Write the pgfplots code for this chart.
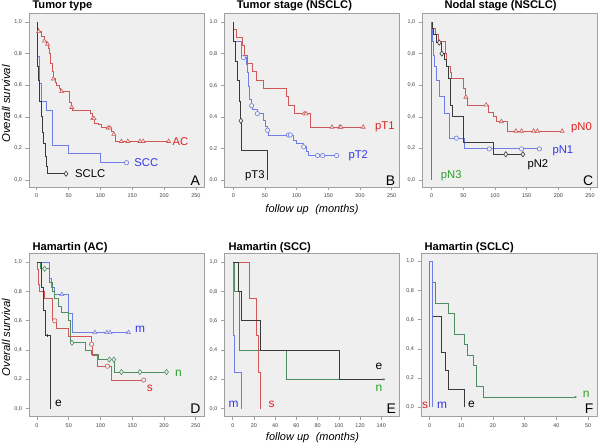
\documentclass[border=0pt]{standalone}
\usepackage{pgfplots}
\pgfplotsset{compat=1.18}
\usepackage{fontspec}
\setmainfont{Liberation Sans}
\definecolor{bgc}{HTML}{EFEFEF}
\definecolor{framec}{HTML}{A0A0A0}
\definecolor{lred}{HTML}{D05858}
\definecolor{lblue}{HTML}{6E7EE6}
\definecolor{lgreen}{HTML}{4E8E60}
\definecolor{lblack}{HTML}{3A3A3A}
\definecolor{tred}{HTML}{E02020}
\definecolor{tblue}{HTML}{3535F0}
\definecolor{tgreen}{HTML}{28A028}
\definecolor{tickc}{HTML}{404040}
\newcommand\lf{\fontsize{11.3}{13}\selectfont}
\newcommand\lfb{\fontsize{12}{14}\selectfont}
\newcommand\ttl{\bfseries\fontsize{11.2}{13}\selectfont}
\newcommand\plet{\fontsize{14}{16}\selectfont}
\pgfplotsset{
  km/.style={scale only axis, clip=false,
    axis background/.style={fill=bgc},
    axis line style={draw=framec, line width=0.9bp},
    tick pos=left, tick align=outside, major tick length=3.5bp,
    tick style={draw=framec, line width=0.6bp},
    ytick={0,0.2,0.4,0.6,0.8,1},
    tick label style={font=\fontsize{5.5}{6}\selectfont, text=tickc},
    /pgf/number format/assume math mode=true,
    yticklabel style={/pgf/number format/.cd, fixed, fixed zerofill, precision=1, use comma},
    xticklabel style={/pgf/number format/.cd, fixed, precision=0},
  },
  kml/.style={const plot, line width=0.9bp, mark=none},
  cens/.style={only marks, mark options={solid, fill=bgc, line width=0.6bp}},
}
\begin{document}
\begin{tikzpicture}
\useasboundingbox (0bp,0bp) rectangle (600bp,445bp);
% titles and labels
\node[anchor=base west, inner sep=0, font=\ttl] at (32.3bp,436bp) {Tumor type};
\node[anchor=base west, inner sep=0, font=\ttl] at (236.7bp,436bp) {Tumor stage (NSCLC)};
\node[anchor=base west, inner sep=0, font=\ttl] at (444.3bp,436bp) {Nodal stage (NSCLC)};
\node[anchor=base west, inner sep=0, font=\ttl] at (32.3bp,194.3bp) {Hamartin (AC)};
\node[anchor=base west, inner sep=0, font=\ttl] at (228.3bp,194.3bp) {Hamartin (SCC)};
\node[anchor=base west, inner sep=0, font=\ttl] at (424.3bp,194.3bp) {Hamartin (SCLC)};
\node[rotate=90, inner sep=0, font=\itshape\fontsize{11.4}{13}\selectfont] at (6bp,341bp) {Overall survival};
\node[rotate=90, inner sep=0, font=\itshape\fontsize{11.4}{13}\selectfont] at (6bp,107.5bp) {Overall survival};
\node[inner sep=0, font=\itshape\fontsize{11}{13}\selectfont] at (312bp,235bp) {follow up\hspace{0.6em}(months)};
\node[inner sep=0, font=\itshape\fontsize{11}{13}\selectfont] at (312.5bp,7bp) {follow up\hspace{0.6em}(months)};

% ---------- A ----------
\begin{axis}[km, at={(29bp,258bp)}, anchor=south west, width=175bp, height=174bp,
  xmin=-12.1, xmax=262.6, ymin=-0.044, ymax=1.057, xtick={0,50,100,150,200,250}]
\addplot[kml, lred] coordinates {(0,1)(1,0.96)(3,0.94)(8,0.91)(12,0.88)(16,0.86)(18,0.83)(20,0.80)(22,0.74)(24,0.69)(26,0.64)(29,0.62)(31,0.60)(35,0.58)(38,0.56)(51,0.49)(54,0.46)(56,0.44)(84,0.42)(88,0.39)(91,0.36)(97,0.35)(101,0.33)(117,0.31)(120,0.29)(123,0.245)(207,0.245)};
\addplot[cens, mark=triangle*, mark size=2.3bp, lred] coordinates {(3,0.94)(12,0.88)(17,0.86)(26,0.64)(39,0.56)(55,0.46)(88,0.39)(90,0.39)(112,0.33)(115,0.33)(121,0.29)(133,0.245)(143,0.245)(162,0.245)(167,0.245)(207,0.245)};
\addplot[kml, lblue] coordinates {(0,1)(0.5,0.89)(1.5,0.78)(5,0.61)(8,0.50)(15,0.44)(24,0.22)(50,0.17)(100,0.11)(141,0.11)};
\addplot[cens, mark=*, mark size=2.2bp, lblue] coordinates {(141,0.11)};
\addplot[kml, lblack] coordinates {(0,1)(0.5,0.85)(1,0.72)(2,0.63)(4,0.57)(5,0.50)(7,0.40)(9,0.30)(11,0.23)(13,0.15)(15,0.085)(17,0.04)(46,0.04)};
\addplot[cens, mark=diamond*, mark size=2.6bp, lblack] coordinates {(46,0.04)};
\node[anchor=west, inner sep=0, font=\lf, text=tred] at (axis cs:213,0.245) {AC};
\node[anchor=west, inner sep=0, font=\lf, text=tblue] at (axis cs:153,0.11) {SCC};
\node[anchor=west, inner sep=0, font=\lf, text=black] at (axis cs:60,0.04) {SCLC};
\node[anchor=base east, inner sep=0, font=\plet] at ([xshift=-4bp,yshift=1.5bp]rel axis cs:1,0) {A};
\end{axis}

% ---------- B ----------
\begin{axis}[km, at={(224.3bp,258bp)}, anchor=south west, width=175bp, height=174bp,
  xmin=-14.2, xmax=262, ymin=-0.044, ymax=1.057, xtick={0,50,100,150,200,250},
  yticklabel style={/pgf/number format/.cd, use period}]
\addplot[kml, lred] coordinates {(0,1)(1,0.95)(5,0.90)(15,0.85)(18,0.79)(22,0.74)(30,0.69)(37,0.63)(48,0.58)(84,0.53)(87,0.475)(96,0.42)(121,0.335)(205,0.335)};
\addplot[cens, mark=triangle*, mark size=2.3bp, lred] coordinates {(112,0.42)(115,0.42)(156,0.335)(168,0.335)(170,0.335)(205,0.335)};
\addplot[kml, lblue] coordinates {(0,1)(1,0.88)(13,0.775)(20,0.73)(22,0.68)(24,0.59)(26,0.51)(28,0.47)(31,0.445)(38,0.42)(47,0.38)(50,0.34)(54,0.315)(56,0.285)(95,0.25)(100,0.23)(111,0.21)(116,0.18)(118,0.155)(163,0.155)};
\addplot[cens, mark=*, mark size=2.2bp, lblue] coordinates {(16,0.775)(29,0.47)(38,0.42)(54,0.315)(87,0.285)(90,0.285)(111,0.21)(133,0.155)(141,0.155)(163,0.155)};
\addplot[kml, lblack] coordinates {(0,1)(1,0.88)(4,0.75)(6,0.63)(9,0.5)(11,0.375)(13,0.19)(54,0)};
\addplot[cens, mark=diamond*, mark size=2.6bp, lblack] coordinates {(12,0.375)};
\node[anchor=west, inner sep=0, font=\lf, text=tred] at (axis cs:223.7,0.335) {pT1};
\node[anchor=west, inner sep=0, font=\lf, text=tblue] at (axis cs:181.6,0.155) {pT2};
\node[anchor=west, inner sep=0, font=\lf, text=black] at (axis cs:18.4,0.025) {pT3};
\node[anchor=base east, inner sep=0, font=\plet] at ([xshift=-4bp,yshift=1.5bp]rel axis cs:1,0) {B};
\end{axis}

% ---------- C ----------
\begin{axis}[km, at={(422.3bp,258bp)}, anchor=south west, width=175bp, height=174bp,
  xmin=-14.8, xmax=261.5, ymin=-0.044, ymax=1.057, xtick={0,50,100,150,200,250}]
\addplot[kml, lred] coordinates {(0,1)(2,0.96)(6,0.92)(10,0.88)(21,0.80)(24,0.72)(29,0.68)(32,0.64)(50,0.58)(53,0.525)(57,0.475)(89,0.43)(97,0.40)(102,0.37)(119,0.31)(206,0.31)};
\addplot[cens, mark=triangle*, mark size=2.3bp, lred] coordinates {(54,0.525)(86,0.475)(110,0.37)(133,0.31)(142,0.31)(161,0.31)(167,0.31)(206,0.31)};
\addplot[kml, lblue] coordinates {(0,1)(0.5,0.88)(2.6,0.79)(5,0.72)(8,0.63)(12,0.53)(19.4,0.42)(27.3,0.265)(51,0.197)(170,0.197)};
\addplot[cens, mark=*, mark size=2.2bp, lblue] coordinates {(39,0.265)(91,0.197)(142,0.197)(170,0.197)};
\addplot[kml, lblack] coordinates {(0,1)(1,0.96)(3,0.92)(8,0.87)(15,0.80)(20,0.76)(23,0.72)(26,0.64)(29,0.61)(30,0.475)(33,0.40)(50,0.237)(97,0.163)(144,0.163)};
\addplot[cens, mark=diamond*, mark size=2.6bp, lblack] coordinates {(12,0.87)(16,0.80)(117,0.163)(144,0.163)};
\addplot[kml, lgreen] coordinates {(0,1)(0,0)};
\node[anchor=west, inner sep=0, font=\lf, text=tred] at (axis cs:220,0.33) {pN0};
\node[anchor=west, inner sep=0, font=\lf, text=tblue] at (axis cs:190.5,0.186) {pN1};
\node[anchor=west, inner sep=0, font=\lf, text=black] at (axis cs:151,0.095) {pN2};
\node[anchor=west, inner sep=0, font=\lf, text=tgreen] at (axis cs:14.2,0.025) {pN3};
\node[anchor=base east, inner sep=0, font=\plet] at ([xshift=-4bp,yshift=1.5bp]rel axis cs:1,0) {C};
\end{axis}

% ---------- D ----------
\begin{axis}[km, at={(29bp,28.3bp)}, anchor=south west, width=175bp, height=163.4bp,
  xmin=-12.6, xmax=263, ymin=-0.055, ymax=1.061, xtick={0,50,100,150,200,250}]
\addplot[kml, lblue] coordinates {(0,1)(19,0.89)(23,0.83)(27,0.78)(50,0.65)(56,0.52)(144,0.52)};
\addplot[cens, mark=triangle*, mark size=2.3bp, lblue] coordinates {(39,0.78)(91,0.52)(110,0.52)(115,0.52)(144,0.52)};
\addplot[kml, lgreen] coordinates {(0,1)(6,0.955)(20,0.86)(25,0.80)(28,0.75)(33,0.70)(39,0.655)(50,0.60)(53,0.45)(77,0.40)(86,0.37)(96,0.335)(122,0.25)(204,0.25)};
\addplot[cens, mark=diamond*, mark size=2.6bp, lgreen] coordinates {(12,0.955)(55,0.45)(114,0.335)(121,0.335)(133,0.25)(162,0.25)(204,0.25)};
\addplot[kml, lred] coordinates {(0,1)(1,0.95)(3,0.85)(4,0.80)(12,0.75)(25,0.60)(31,0.545)(50,0.49)(85,0.44)(88,0.36)(95,0.29)(118,0.195)(168,0.195)};
\addplot[cens, mark=*, mark size=2.2bp, lred] coordinates {(28,0.60)(86,0.44)(111,0.29)(168,0.195)};
\addplot[kml, lblack] coordinates {(0,1)(7,0.83)(10,0.67)(14,0.50)(20.5,0)};
\addplot[cens, mark=|, mark size=1.5bp, lblack] coordinates {(16,0.5)};
\node[anchor=west, inner sep=0, font=\lfb, text=tblue] at (axis cs:154.4,0.542) {m};
\node[anchor=west, inner sep=0, font=\lfb, text=tgreen] at (axis cs:217.4,0.241) {n};
\node[anchor=west, inner sep=0, font=\lfb, text=tred] at (axis cs:172.8,0.139) {s};
\node[anchor=west, inner sep=0, font=\lfb, text=black] at (axis cs:28.4,0.036) {e};
\node[anchor=base east, inner sep=0, font=\plet] at ([xshift=-3.3bp,yshift=3.4bp]rel axis cs:1,0) {D};
\end{axis}

% ---------- E ----------
\begin{axis}[km, at={(224.3bp,28.3bp)}, anchor=south west, width=175bp, height=163.4bp,
  xmin=-8, xmax=157, ymin=-0.055, ymax=1.061, xtick={0,20,40,60,80,100,120,140}]
\addplot[kml, lblue] coordinates {(0,1)(0.6,0.5)(1.6,0.25)(7.9,0)};
\addplot[kml, lred] coordinates {(0,1)(15.4,0.75)(22.7,0.5)(24.3,0.25)(26.5,0)};
\addplot[kml, lgreen] coordinates {(0,1)(1.6,0.8)(6.3,0.4)(51,0.2)(142.5,0.2)};
\addplot[cens, mark=*, mark size=0.9bp, lgreen, mark options={fill=lgreen}] coordinates {(142.5,0.2)};
\addplot[kml, lblack] coordinates {(0,1)(5.4,0.8)(7.9,0.6)(26.5,0.4)(101,0.2)(142,0.2)};
\node[anchor=west, inner sep=0, font=\lfb, text=black] at (axis cs:134.6,0.287) {e};
\node[anchor=west, inner sep=0, font=\lfb, text=tgreen] at (axis cs:134.6,0.14) {n};
\node[anchor=west, inner sep=0, font=\lfb, text=tblue] at (axis cs:-4,0.03) {m};
\node[anchor=west, inner sep=0, font=\lfb, text=tred] at (axis cs:33.7,0.03) {s};
\node[anchor=base east, inner sep=0, font=\plet] at ([xshift=-3.3bp,yshift=3.4bp]rel axis cs:1,0) {E};
\end{axis}

% ---------- F ----------
\begin{axis}[km, at={(421bp,28.3bp)}, anchor=south west, width=176bp, height=163.4bp,
  xmin=-2.7, xmax=52.8, ymin=-0.064, ymax=1.055, xtick={0,10,20,30,40,50}]
\addplot[kml, lblack] coordinates {(0,1)(1.05,0.625)(3.9,0.375)(4.9,0.25)(6,0.125)(10.9,0)};
\addplot[kml, lgreen] coordinates {(0,1)(1.05,0.857)(1.8,0.714)(6,0.643)(7.8,0.5)(10.9,0.43)(11.8,0.357)(13.7,0.286)(14.7,0.143)(17.05,0.071)(46,0.071)};
\addplot[cens, mark=*, mark size=0.9bp, lgreen, mark options={fill=lgreen}] coordinates {(46,0.071)};
\addplot[kml, lblue] coordinates {(0,1)(1.05,0)};
\addplot[kml, lred] coordinates {(0,1)(0,0)};
\node[anchor=west, inner sep=0, font=\lfb, text=tred] at (axis cs:-2.4,0.015) {s};
\node[anchor=west, inner sep=0, font=\lfb, text=tblue] at (axis cs:2.3,0.015) {m};
\node[anchor=west, inner sep=0, font=\lfb, text=black] at (axis cs:12.1,0.02) {e};
\node[anchor=west, inner sep=0, font=\lfb, text=tgreen] at (axis cs:48.3,0.09) {n};
\node[anchor=base east, inner sep=0, font=\plet] at ([xshift=-3.3bp,yshift=3.4bp]rel axis cs:1,0) {F};
\end{axis}
\end{tikzpicture}
\end{document}
